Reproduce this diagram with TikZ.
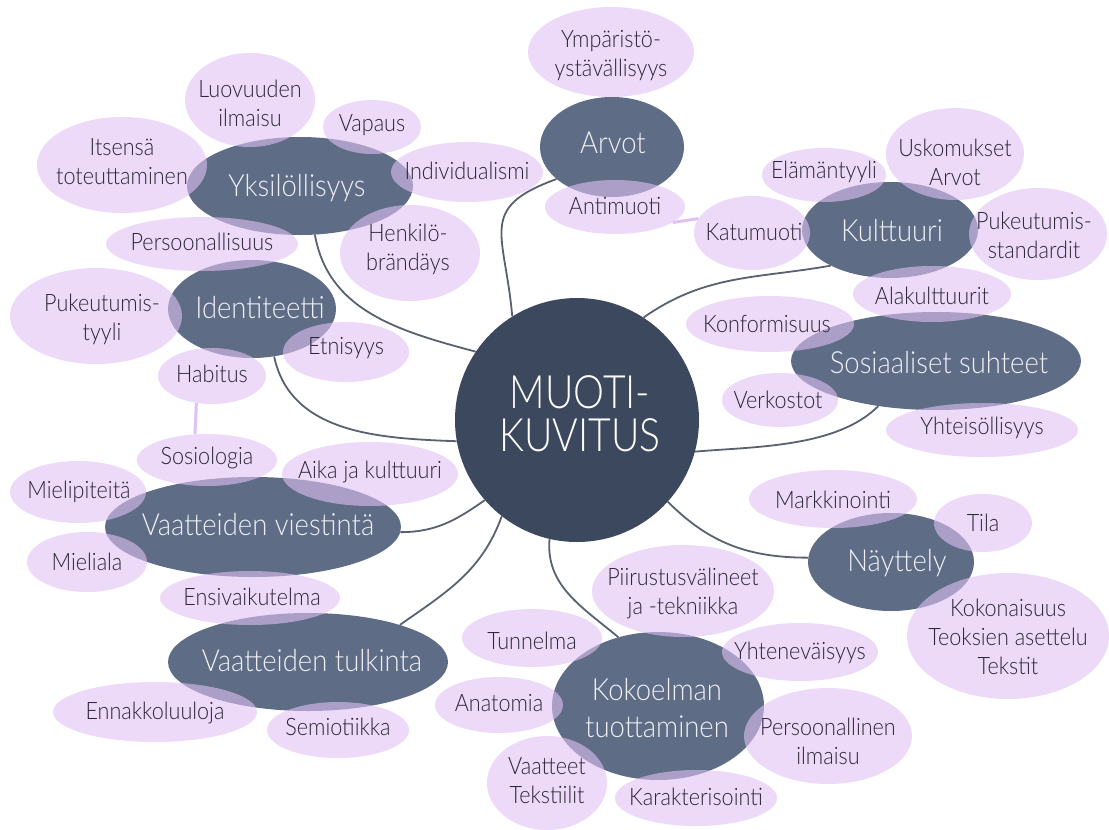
\documentclass[tikz,border=0pt]{standalone}
\usepackage{fontspec}
\setmainfont{Lato}[UprightFont=* Light, FakeStretch=0.9]
\newfontfamily\hubfont{Lato}[UprightFont=* Light, FakeStretch=0.85]
\usepackage{tikz}
\usetikzlibrary{shapes.geometric}
\definecolor{hubnavy}{HTML}{3C485D}
\definecolor{branchslate}{HTML}{5E6C86}
\definecolor{leafpurple}{HTML}{DFC1F3}
\definecolor{leafink}{HTML}{2D2636}
\definecolor{branchink}{HTML}{EEF0F5}
\definecolor{linkgray}{HTML}{59606F}
\tikzset{
  hub/.style={circle, fill=hubnavy, minimum size=244pt, inner sep=0pt},
  branch/.style={ellipse, fill=branchslate, inner sep=0pt},
  leaf/.style={ellipse, fill=leafpurple, fill opacity=0.6, inner sep=0pt},
  rxy/.style 2 args={minimum width=2*#1, minimum height=2*#2},
  hubtxt/.style={text=white, font=\hubfont\fontsize{46}{43}\selectfont, align=center, inner sep=0pt},
  branchtxt/.style={text=branchink, font=\fontsize{30.5}{37}\selectfont, align=center, inner sep=0pt},
  leaftxt/.style={text=leafink, font=\fontsize{24}{29}\selectfont, align=center, inner sep=0pt},
  link/.style={draw=linkgray, line width=1.8pt},
  softlink/.style={draw=leafpurple, line width=3pt}
}
\begin{document}
\begin{tikzpicture}[x=1pt,y=1pt]
\useasboundingbox (0,0) rectangle (1109,-830);
\node[hub] (muoti) at (577,-420) {};
\node[branch, rxy={113}{49}] (yks) at (300,-186) {};
\node[branch, rxy={84}{49}] (iden) at (252,-309) {};
\node[branch, rxy={72}{50}] (arvot) at (612,-147) {};
\node[branch, rxy={88}{48}] (kult) at (890,-230) {};
\node[branch, rxy={145}{49}] (sos) at (936,-361) {};
\node[branch, rxy={148}{50}] (viest) at (253,-527) {};
\node[branch, rxy={140}{49}] (tulk) at (308,-662) {};
\node[branch, rxy={106}{74}] (kok) at (658,-706) {};
\node[branch, rxy={83}{49}] (nay) at (891,-562) {};
\draw[link] (yks.-73) to[out=-80, in=165] (muoti.146);
\draw[link] (iden.-65) to[out=-78, in=178] (muoti.190);
\draw[link] (arvot.210) to[out=200, in=95, looseness=1.5] (muoti.122);
\draw[link] (kult.211) to[out=190, in=35] (muoti.57);
\draw[link] (sos.218) to[out=225, in=5, looseness=0.8] (muoti.-15);
\draw[link] (muoti.-42) to[out=-45, in=180] (nay.177);
\draw[link] (muoti.257) to[out=-95, in=140] (kok.120);
\draw[link] (tulk.22) to[out=35, in=250] (muoti.232);
\draw[link] (viest.-2) to[out=0, in=215] (muoti.221);
\node[leaf, rxy={65}{47}] (luov) at (250,-100) {};
\node[leaf, rxy={49}{27}] (vap) at (372,-127) {};
\node[leaf, rxy={85}{48}] (its) at (122,-165) {};
\node[leaf, rxy={76}{30}] (ind) at (467,-172) {};
\node[leaf, rxy={70}{48}] (henk) at (410,-253) {};
\node[leaf, rxy={96}{27}] (pers) at (202,-244) {};
\node[leaf, rxy={86}{48}] (puk) at (96,-316) {};
\node[leaf, rxy={63}{30}] (etn) at (346,-352) {};
\node[leaf, rxy={54}{28}] (hab) at (212,-376) {};
\node[leaf, rxy={83}{45}] (ymp) at (611,-52) {};
\node[leaf, rxy={70}{27}] (anti) at (615,-207) {};
\node[leaf, rxy={62}{27}] (elam) at (824,-175) {};
\node[leaf, rxy={69}{46}] (usk) at (955,-154) {};
\node[leaf, rxy={58}{37}] (katu) at (752,-233) {};
\node[leaf, rxy={69}{46}] (pstd) at (1038,-234) {};
\node[leaf, rxy={79}{28}] (ala) at (932,-294) {};
\node[leaf, rxy={84}{28}] (konf) at (770,-324) {};
\node[leaf, rxy={58}{27}] (verk) at (780,-400) {};
\node[leaf, rxy={96}{27}] (yht) at (982,-430) {};
\node[leaf, rxy={70}{26}] (sosio) at (207,-460) {};
\node[leaf, rxy={88}{32}] (aika) at (370,-474) {};
\node[leaf, rxy={68}{31}] (miel) at (78,-492) {};
\node[leaf, rxy={60}{30}] (mieli) at (87,-562) {};
\node[leaf, rxy={90}{27}] (ensi) at (250,-598) {};
\node[leaf, rxy={102}{30}] (enna) at (155,-712) {};
\node[leaf, rxy={71}{28}] (semi) at (338,-730) {};
\node[leaf, rxy={70}{29}] (tunn) at (532,-638) {};
\node[leaf, rxy={64}{28}] (anat) at (499,-705) {};
\node[leaf, rxy={91}{46}] (piir) at (683,-591) {};
\node[leaf, rxy={60}{47}] (vaat) at (547,-783) {};
\node[leaf, rxy={81}{28}] (kara) at (696,-798) {};
\node[leaf, rxy={84}{29}] (mark) at (833,-499) {};
\node[leaf, rxy={49}{29}] (tila) at (983,-523) {};
\node[leaf, rxy={101}{63}] (koko) at (1008,-636) {};
\node[leaf, rxy={78}{29}] (ytv) at (800,-652) {};
\node[leaf, rxy={84}{48}] (pil) at (828,-736) {};
\draw[softlink] (hab.240) -- (sosio.115);
\draw[softlink] (anti.-15) -- (katu.165);
\node[hubtxt] (muotiT) at (580,-414) {MUOTI-\\KUVITUS};
\node[branchtxt] (yksT) at (297,-188) {Yksilöllisyys};
\node[branchtxt] (idenT) at (260,-308) {Identiteetti};
\node[branchtxt] (arvotT) at (613,-143) {Arvot};
\node[branchtxt] (kultT) at (892,-231) {Kulttuuri};
\node[branchtxt] (sosT) at (939,-363) {Sosiaaliset suhteet};
\node[branchtxt] (viestT) at (258,-525) {Vaatteiden viestintä};
\node[branchtxt] (tulkT) at (312,-661) {Vaatteiden tulkinta};
\node[branchtxt] (kokT) at (657,-708) {Kokoelman\\tuottaminen};
\node[branchtxt] (nayT) at (897,-563) {Näyttely};
\node[leaftxt] (luovT) at (250,-103) {Luovuuden\\ilmaisu};
\node[leaftxt] (vapT) at (372,-125) {Vapaus};
\node[leaftxt] (itsT) at (122,-162) {Itsensä\\toteuttaminen};
\node[leaftxt] (indT) at (467,-171) {Individualismi};
\node[leaftxt] (henkT) at (408,-249) {Henkilö-\\brändäys};
\node[leaftxt] (persT) at (202,-242) {Persoonallisuus};
\node[leaftxt] (pukT) at (102,-319) {Pukeutumis-\\tyyli};
\node[leaftxt] (etnT) at (346,-348) {Etnisyys};
\node[leaftxt] (habT) at (212,-374) {Habitus};
\node[leaftxt] (ympT) at (611,-56) {Ympäristö-\\ystävällisyys};
\node[leaftxt] (antiT) at (615,-206) {Antimuoti};
\node[leaftxt] (elamT) at (824,-172) {Elämäntyyli};
\node[leaftxt] (uskT) at (955,-162) {Uskomukset\\Arvot};
\node[leaftxt] (katuT) at (754,-232) {Katumuoti};
\node[leaftxt] (pstdT) at (1034,-235) {Pukeutumis-\\standardit};
\node[leaftxt] (alaT) at (932,-296) {Alakulttuurit};
\node[leaftxt] (konfT) at (767,-324) {Konformisuus};
\node[leaftxt] (verkT) at (778,-400) {Verkostot};
\node[leaftxt] (yhtT) at (982,-428) {Yhteisöllisyys};
\node[leaftxt] (sosioT) at (207,-458) {Sosiologia};
\node[leaftxt] (aikaT) at (370,-472) {Aika ja kulttuuri};
\node[leaftxt] (mielT) at (79,-492) {Mielipiteitä};
\node[leaftxt] (mieliT) at (87,-562) {Mieliala};
\node[leaftxt] (ensiT) at (252,-597) {Ensivaikutelma};
\node[leaftxt] (ennaT) at (155,-713) {Ennakkoluuloja};
\node[leaftxt] (semiT) at (338,-727) {Semiotiikka};
\node[leaftxt] (tunnT) at (532,-641) {Tunnelma};
\node[leaftxt] (anatT) at (499,-703) {Anatomia};
\node[leaftxt] (piirT) at (683,-593) {Piirustusvälineet\\ja -tekniikka};
\node[leaftxt] (vaatT) at (547,-781) {Vaatteet\\Tekstiilit};
\node[leaftxt] (karaT) at (696,-797) {Karakterisointi};
\node[leaftxt] (markT) at (833,-500) {Markkinointi};
\node[leaftxt] (tilaT) at (983,-523) {Tila};
\node[leaftxt] (kokoT) at (1008,-637) {Kokonaisuus\\Teoksien asettelu\\Tekstit};
\node[leaftxt] (ytvT) at (800,-653) {Yhteneväisyys};
\node[leaftxt] (pilT) at (828,-741) {Persoonallinen\\ilmaisu};
\end{tikzpicture}
\end{document}
